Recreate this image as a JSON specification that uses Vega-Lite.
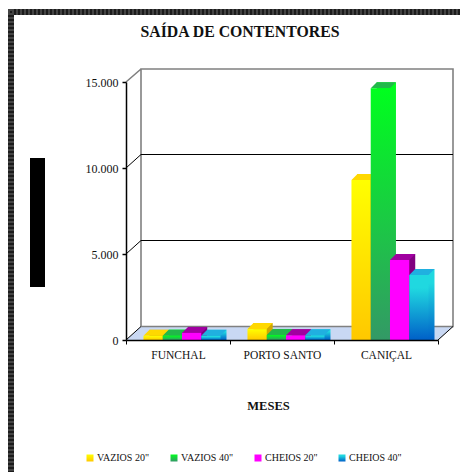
{
"$schema":"https://vega.github.io/schema/vega-lite/v6.json",
"width":312,"height":258,
"autosize":{"type":"none"},
"padding":{"left":126,"top":82,"right":22,"bottom":132},
"background":"white",
"config":{"view":{"stroke":null},"font":"Liberation Serif"},
"title":{"text":"SAÍDA DE CONTENTORES","font":"Liberation Serif","fontSize":15.8,"fontWeight":"bold","color":"#111","anchor":"middle","frame":"group","dx":-42,"offset":-35},
"datasets":{
"bars":[
{"local":"FUNCHAL","tipo":"VAZIOS 20\"","valor":10},
{"local":"FUNCHAL","tipo":"VAZIOS 40\"","valor":20},
{"local":"FUNCHAL","tipo":"CHEIOS 20\"","valor":180},
{"local":"FUNCHAL","tipo":"CHEIOS 40\"","valor":10},
{"local":"PORTO SANTO","tipo":"VAZIOS 20\"","valor":400},
{"local":"PORTO SANTO","tipo":"VAZIOS 40\"","valor":60},
{"local":"PORTO SANTO","tipo":"CHEIOS 20\"","valor":40},
{"local":"PORTO SANTO","tipo":"CHEIOS 40\"","valor":40},
{"local":"CANIÇAL","tipo":"VAZIOS 20\"","valor":9070},
{"local":"CANIÇAL","tipo":"VAZIOS 40\"","valor":14400},
{"local":"CANIÇAL","tipo":"CHEIOS 20\"","valor":4420},
{"local":"CANIÇAL","tipo":"CHEIOS 40\"","valor":3550}
]},
"data":{"name":"bars"},
"resolve":{"scale":{"fill":"independent","xOffset":"independent"}},
"layer":[
{"data":{"values":[{"v":0}]},
 "mark":{"type":"point","shape":"M0 0 L15 -13.5 L327 -13.5 L312 0 Z","size":4,"filled":true,"fill":"#c9d8f3","opacity":1,"strokeWidth":0},
 "encoding":{"x":{"value":0},"y":{"field":"v","type":"quantitative","scale":{"domain":[0,15000],"nice":false},"axis":{"values":[0,5000,10000,15000],"title":null,"grid":false,"labelExpr":"replace(format(datum.value,','),',','.')","labelFont":"Liberation Serif","labelFontSize":12,"labelColor":"#111","labelPadding":4,"tickColor":"#000","tickSize":4,"tickWidth":1.5,"domainColor":"#000","domainWidth":1.5,"zindex":1}}}},
{"data":{"values":[{"v":0}]},
 "mark":{"type":"point","shape":"M15 -13.5 L15 -271 L327 -271 L327 -13.5 L15 -13.5 M0 -258 L15 -271","size":4,"filled":false,"opacity":1,"stroke":"#808080","strokeWidth":1.6},
 "encoding":{"x":{"value":0},"y":{"field":"v","type":"quantitative"}}},
{"data":{"values":[{"v":5000},{"v":10000}]},
 "mark":{"type":"point","shape":"M0 0 L15 -13.5 L327 -13.5","size":4,"filled":false,"opacity":1,"stroke":"#000","strokeWidth":1},
 "encoding":{"x":{"value":0},"y":{"field":"v","type":"quantitative"}}},
{"data":{"values":[{"v":0}]},
 "mark":{"type":"point","shape":"M0 0 L15 -13.5 M312 0 L327 -13.5","size":4,"filled":false,"opacity":1,"stroke":"#000","strokeWidth":1},
 "encoding":{"x":{"value":0},"y":{"field":"v","type":"quantitative"}}},
{"mark":{"type":"bar","yOffset":-10,"y2Offset":-10},
 "encoding":{
  "x":{"field":"local","type":"nominal","sort":null,"scale":{"paddingInner":0,"paddingOuter":0},"axis":{"title":"MESES","titleFont":"Liberation Serif","titleFontSize":12.5,"titleFontWeight":"bold","titleColor":"#111","titleX":142,"titleY":59,"labelAngle":0,"labelFont":"Liberation Serif","labelFontSize":11.5,"labelColor":"#111","labelPadding":5,"tickBand":"extent","tickColor":"#000","tickSize":4,"tickWidth":1,"domainColor":"#000","domainWidth":1.5,"zindex":1}},
  "xOffset":{"field":"tipo","type":"nominal","sort":null,"scale":{"paddingInner":0,"paddingOuter":0.7,"align":0.87}},
  "y":{"field":"valor","type":"quantitative","stack":null},
  "fill":{"field":"tipo","type":"nominal","sort":null,"legend":null,"scale":{"domain":["VAZIOS 20\"","VAZIOS 40\"","CHEIOS 20\"","CHEIOS 40\""],"range":[
     "#d0a800",
     {"expr":"{gradient:'linear',x1:0,y1:0,x2:0,y2:1,stops:[{offset:0,color:'#00ff1e'},{offset:1,color:'#339966'}]}"},
     "#800080",
     {"expr":"{gradient:'linear',x1:0,y1:0,x2:0,y2:1,stops:[{offset:0.2,color:'#20d8e0'},{offset:1,color:'#0060c8'}]}"}
   ]}}
 }},
{"mark":{"type":"point","shape":"M-9.6 0 L9.6 0 L15.6 -6 L-3.6 -6 Z","size":4,"filled":true,"opacity":1,"yOffset":-4,"strokeWidth":0},
 "encoding":{
  "x":{"field":"local","type":"nominal","sort":null},
  "xOffset":{"field":"tipo","type":"nominal","sort":null,"scale":{"type":"band","paddingInner":0,"paddingOuter":0.7,"align":0.648}},
  "y":{"field":"valor","type":"quantitative"},
  "fill":{"field":"tipo","type":"nominal","sort":null,"legend":null,"scale":{"domain":["VAZIOS 20\"","VAZIOS 40\"","CHEIOS 20\"","CHEIOS 40\""],"range":["#ffd800","#22b84a","#a000a0","#20b0e0"]}}
 }},
{"mark":{"type":"bar","yOffset":-4,"y2Offset":-4},
 "encoding":{
  "x":{"field":"local","type":"nominal","sort":null},
  "xOffset":{"field":"tipo","type":"nominal","sort":null,"scale":{"paddingInner":0,"paddingOuter":0.7,"align":0.648}},
  "y":{"field":"valor","type":"quantitative","stack":null},
  "fill":{"field":"tipo","type":"nominal","sort":null,
   "scale":{"domain":["VAZIOS 20\"","VAZIOS 40\"","CHEIOS 20\"","CHEIOS 40\""],
    "range":[
     {"expr":"{gradient:'linear',x1:0,y1:0,x2:0,y2:1,stops:[{offset:0,color:'#ffff00'},{offset:1,color:'#ffc800'}]}"},
     {"expr":"{gradient:'linear',x1:0,y1:0,x2:0,y2:1,stops:[{offset:0,color:'#00ff1e'},{offset:1,color:'#339966'}]}"},
     {"expr":"{gradient:'linear',x1:0,y1:0,x2:0,y2:1,stops:[{offset:0,color:'#ff00ff'},{offset:1,color:'#ff00ff'}]}"},
     {"expr":"{gradient:'linear',x1:0,y1:0,x2:0,y2:1,stops:[{offset:0.2,color:'#20d8e0'},{offset:1,color:'#0060c8'}]}"}
    ]},
   "legend":{"title":null,"orient":"none","legendX":-41,"legendY":371,"direction":"horizontal","columns":4,"gridAlign":"all","symbolType":"square","symbolSize":49,"symbolStrokeWidth":0,"labelFont":"Liberation Serif","labelFontSize":10,"labelColor":"#111","labelOffset":2,"columnPadding":19}}
 }},
{"data":{"values":[{"item":"barra"}]},
 "mark":{"type":"rect","fill":"#000"},
 "encoding":{"x":{"value":-96},"x2":{"value":-81},"y":{"value":76},"y2":{"value":205}}},
{"data":{"values":[{"item":"borda"}]},
 "mark":{"type":"rect","fill":"#1c1c1c"},
 "encoding":{"x":{"value":-118},"x2":{"value":-112},"y":{"value":-73},"y2":{"value":390}}},
{"data":{"values":[{"item":"borda"}]},
 "mark":{"type":"rect","fill":"#1c1c1c"},
 "encoding":{"x":{"value":-118},"x2":{"value":334},"y":{"value":-73},"y2":{"value":-67}}},
{"data":{"values":[{"item":"borda"}]},
 "mark":{"type":"rule","stroke":"#444","strokeWidth":6,"strokeDash":[2,2]},
 "encoding":{"x":{"value":-115},"y":{"value":-73},"y2":{"value":390}}},
{"data":{"values":[{"item":"borda"}]},
 "mark":{"type":"rule","stroke":"#444","strokeWidth":6,"strokeDash":[2,2]},
 "encoding":{"y":{"value":-70},"x":{"value":-118},"x2":{"value":334}}}
]
}
